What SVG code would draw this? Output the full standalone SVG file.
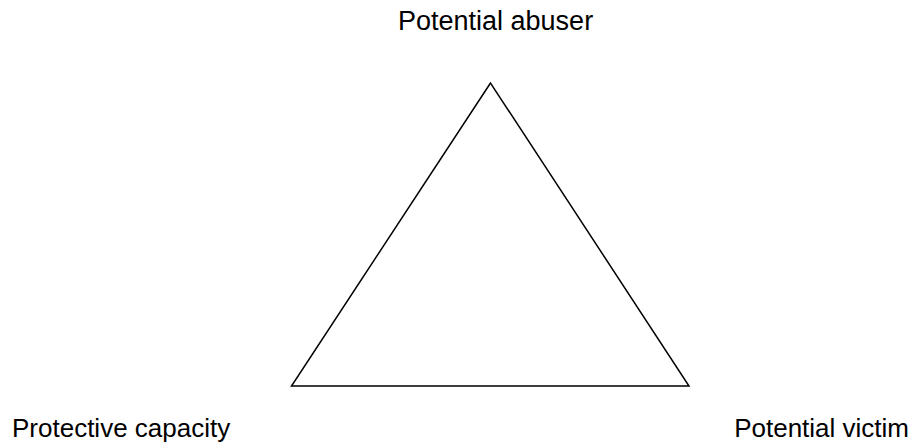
<svg xmlns="http://www.w3.org/2000/svg" width="912" height="444" viewBox="0 0 912 444">
<style>
.lbl{font-family:"Liberation Sans",Arial,sans-serif;font-size:26px;fill:#000}
.edge{fill:none;stroke:#000;stroke-width:1.5}
</style>
<rect width="912" height="444" fill="#fff"/>
<g id="connectors">
<polygon class="edge" points="490.5,83 291.5,386 689,386"/>
</g>
<g id="abuser"><text class="lbl" x="398" y="30" style="font-size:27px">Potential abuser</text></g>
<g id="protective"><text class="lbl" x="12" y="437">Protective capacity</text></g>
<g id="victim"><text class="lbl" x="909" y="437" text-anchor="end">Potential victim</text></g>
</svg>
